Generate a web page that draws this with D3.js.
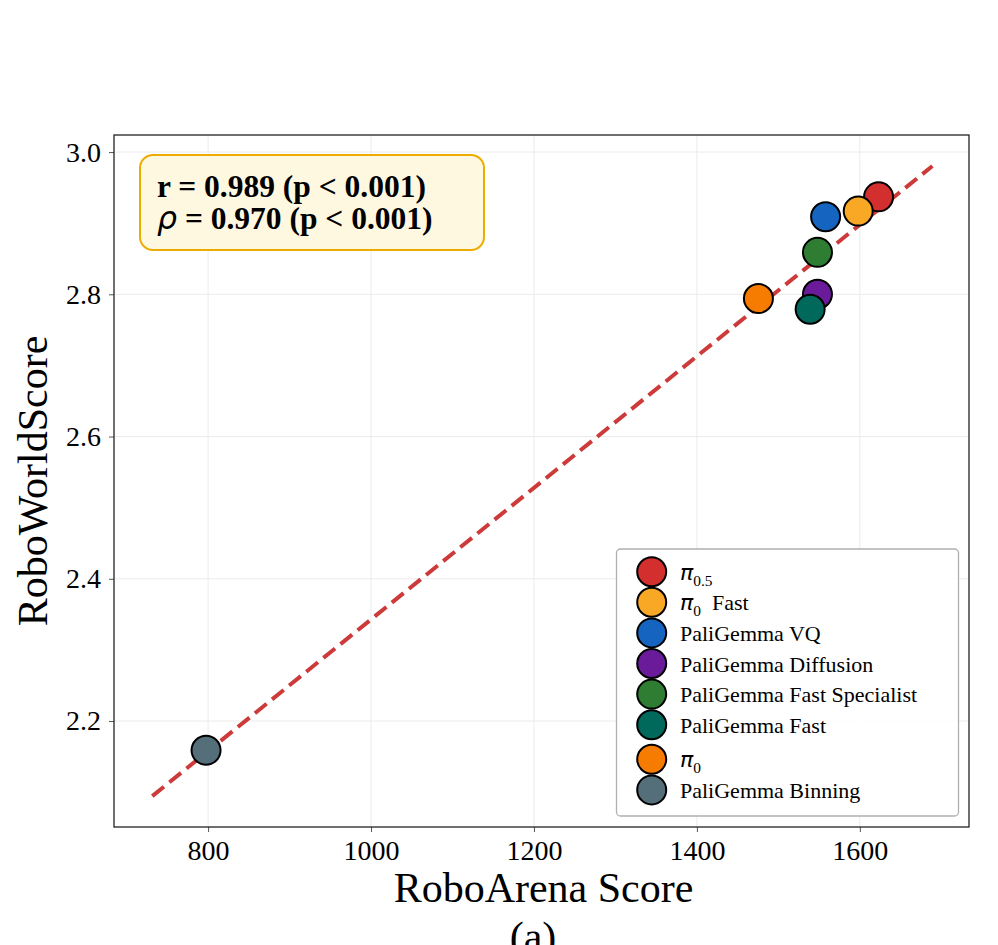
<!DOCTYPE html>
<html>
<head>
<meta charset="utf-8">
<script src="https://cdn.jsdelivr.net/npm/d3@7"></script>
<style>
  html, body { margin: 0; padding: 0; background: #ffffff; }
  svg { display: block; }
</style>
</head>
<body>
<svg id="chart" width="998" height="945"></svg>
<script>
// ---- data ----
const models = ["π_0.5", "π_0 Fast", "PaliGemma VQ", "PaliGemma Diffusion",
                "PaliGemma Fast Specialist", "PaliGemma Fast", "π_0", "PaliGemma Binning"];
const roboArenaScore = [1623, 1598, 1558, 1548, 1548, 1539, 1475.5, 797.5];
const roboWorldScore = [2.937, 2.917, 2.909, 2.800, 2.859, 2.779, 2.794, 2.159];
const colors = ["#d32f2f", "#f9a825", "#1565c0", "#6a1b9a", "#2e7d32", "#00695c", "#f57c00", "#546e7a"];
const xTicks = [800, 1000, 1200, 1400, 1600];
const yTicks = [2.2, 2.4, 2.6, 2.8, 3.0];
const statsPearson = "0.989";
const statsSpearman = "0.970";
const statsP = "0.001";

// ---- layout ----
const svg = d3.select("#chart");
const plot = { left: 114, right: 969, top: 135, bottom: 827 };
const serif = "'Liberation Serif', 'Times New Roman', serif";
const mathFont = "'DejaVu Sans', sans-serif";

const x = d3.scaleLinear().domain([684.5, 1734]).range([plot.left, plot.right]);
const y = d3.scaleLinear().domain([2.051, 3.024]).range([plot.bottom, plot.top]);

// grid
const grid = svg.append("g");
grid.selectAll("line.gx").data(xTicks).join("line")
  .attr("x1", d => x(d)).attr("x2", d => x(d))
  .attr("y1", plot.top).attr("y2", plot.bottom)
  .attr("stroke", "#ebebeb").attr("stroke-width", 1);
grid.selectAll("line.gy").data(yTicks).join("line")
  .attr("y1", d => y(d)).attr("y2", d => y(d))
  .attr("x1", plot.left).attr("x2", plot.right)
  .attr("stroke", "#ebebeb").attr("stroke-width", 1);

// axes
const xAxis = svg.append("g")
  .attr("transform", `translate(0,${plot.bottom})`)
  .call(d3.axisBottom(x).tickValues(xTicks).tickSize(5).tickPadding(8).tickFormat(d3.format("d")));
const yAxis = svg.append("g")
  .attr("transform", `translate(${plot.left},0)`)
  .call(d3.axisLeft(y).tickValues(yTicks).tickSize(5).tickPadding(8).tickFormat(d3.format(".1f")));
[xAxis, yAxis].forEach(a => {
  a.select(".domain").remove();
  a.selectAll(".tick line").attr("stroke", "#555").attr("stroke-width", 1);
  a.selectAll(".tick text").attr("font-family", serif).attr("font-size", 28).attr("fill", "#000");
});

// frame
svg.append("rect")
  .attr("x", plot.left).attr("y", plot.top)
  .attr("width", plot.right - plot.left).attr("height", plot.bottom - plot.top)
  .attr("fill", "none").attr("stroke", "#222").attr("stroke-width", 1.3);

// regression line
const n = roboArenaScore.length;
const mx = d3.mean(roboArenaScore), my = d3.mean(roboWorldScore);
let sxy = 0, sxx = 0;
for (let i = 0; i < n; i++) {
  sxy += (roboArenaScore[i] - mx) * (roboWorldScore[i] - my);
  sxx += (roboArenaScore[i] - mx) ** 2;
}
const slope = sxy / sxx, intercept = my - slope * mx;
const [xmin, xmax] = d3.extent(roboArenaScore);
const pad = 0.08 * (xmax - xmin);
const lineX = [xmin - pad, xmax + pad];
svg.append("line")
  .attr("x1", x(lineX[0])).attr("y1", y(slope * lineX[0] + intercept))
  .attr("x2", x(lineX[1])).attr("y2", y(slope * lineX[1] + intercept))
  .attr("stroke", "#cd3a3a").attr("stroke-width", 4)
  .attr("stroke-dasharray", "15,7");

// points
svg.append("g").selectAll("circle").data(models).join("circle")
  .attr("cx", (d, i) => x(roboArenaScore[i]))
  .attr("cy", (d, i) => y(roboWorldScore[i]))
  .attr("r", 14.5)
  .attr("fill", (d, i) => colors[i])
  .attr("stroke", "#000").attr("stroke-width", 2);

// rich label helper
function addLabel(textSel, label, size) {
  const m = label.match(/^π_(\S+)(.*)$/);
  if (m) {
    textSel.append("tspan").attr("font-family", mathFont).attr("font-style", "italic").text("π");
    textSel.append("tspan").attr("font-size", size * 0.7).attr("dy", 6).text(m[1]);
    if (m[2]) textSel.append("tspan").attr("dy", -6).text("\u00a0" + m[2]);
  } else {
    textSel.text(label);
  }
}

// stats box
svg.append("rect")
  .attr("x", 140).attr("y", 155).attr("width", 344).attr("height", 95)
  .attr("rx", 13).attr("ry", 13)
  .attr("fill", "#fff8e1").attr("stroke", "#efac00").attr("stroke-width", 2);
const t1 = svg.append("text").attr("x", 157).attr("y", 197)
  .attr("font-family", serif).attr("font-size", 31.5).attr("font-weight", "bold");
t1.text(`r = ${statsPearson} (p < ${statsP})`);
const t2 = svg.append("text").attr("x", 157).attr("y", 229)
  .attr("font-family", serif).attr("font-size", 31.5).attr("font-weight", "bold");
t2.append("tspan").attr("font-family", mathFont).attr("font-style", "italic").attr("font-weight", "normal").text("ρ");
t2.append("tspan").text(` = ${statsSpearman} (p < ${statsP})`);

// legend
const lg = svg.append("g");
lg.append("rect")
  .attr("x", 616.5).attr("y", 549).attr("width", 342).attr("height", 267)
  .attr("rx", 4).attr("ry", 4)
  .attr("fill", "#ffffff").attr("fill-opacity", 0.9)
  .attr("stroke", "#b0b0b0").attr("stroke-width", 1.3);
const rowY = (i) => 571.7 + i * 30.6 + (i >= 6 ? 4 : 0);
models.forEach((name, i) => {
  lg.append("circle").attr("cx", 651.7).attr("cy", rowY(i)).attr("r", 14.5)
    .attr("fill", colors[i]).attr("stroke", "#000").attr("stroke-width", 2);
  const t = lg.append("text").attr("x", 680).attr("y", rowY(i) + 8)
    .attr("font-family", serif).attr("font-size", 22).attr("fill", "#000");
  addLabel(t, name, 22);
});

// axis labels
svg.append("text")
  .attr("x", 543.5).attr("y", 902)
  .attr("text-anchor", "middle")
  .attr("font-family", serif).attr("font-size", 42)
  .text("RoboArena Score");
svg.append("text")
  .attr("transform", `translate(47,${481}) rotate(-90)`)
  .attr("text-anchor", "middle")
  .attr("font-family", serif).attr("font-size", 42)
  .text("RoboWorldScore");
svg.append("text")
  .attr("x", 533).attr("y", 951)
  .attr("text-anchor", "middle")
  .attr("font-family", serif).attr("font-size", 42)
  .text("(a)");
</script>
</body>
</html>
